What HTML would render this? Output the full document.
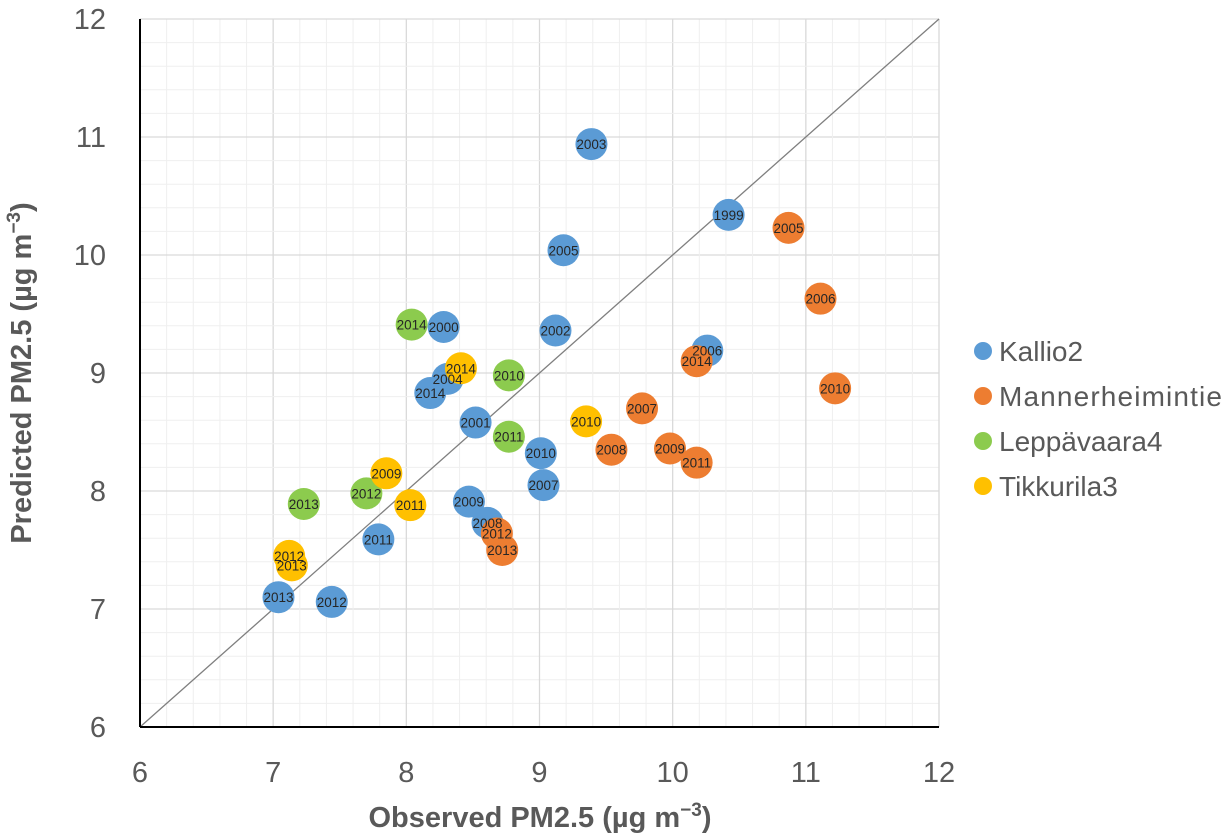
<!DOCTYPE html>
<html><head><meta charset="utf-8"><style>
body{margin:0;background:#fff;}
svg{display:block;font-family:"Liberation Sans",sans-serif;}
</style></head><body>
<svg id="chart" width="1226" height="839"></svg>
<script>
const seriesNames=["Kallio2","Mannerheimintie","Leppävaara4","Tikkurila3"];
const seriesColors=["#5B9BD5","#ED7D31","#8CCB4E","#FFC000"];
const kallioObs=[9.39,10.42,9.18,8.28,9.12,10.26,8.31,8.18,8.52,9.01,9.03,8.47,8.61,7.79,7.04,7.44];
const kallioPred=[10.94,10.34,10.04,9.39,9.36,9.19,8.95,8.83,8.58,8.32,8.05,7.91,7.73,7.59,7.10,7.06];
const kallioYears=["2003","1999","2005","2000","2002","2006","2004","2014","2001","2010","2007","2009","2008","2011","2013","2012"];
const mannObs=[10.87,11.11,11.22,10.18,9.77,9.54,9.98,10.18,8.68,8.72];
const mannPred=[10.23,9.63,8.87,9.10,8.70,8.35,8.36,8.24,7.64,7.50];
const mannYears=["2005","2006","2010","2014","2007","2008","2009","2011","2012","2013"];
const lepObs=[8.04,8.77,8.77,7.70,7.23];
const lepPred=[9.41,8.98,8.46,7.98,7.89];
const lepYears=["2014","2010","2011","2012","2013"];
const tikObs=[8.41,9.35,7.85,8.03,7.12,7.14];
const tikPred=[9.04,8.59,8.15,7.88,7.45,7.37];
const tikYears=["2014","2010","2009","2011","2012","2013"];
const xTicks=[6,7,8,9,10,11,12];
const yTicks=[6,7,8,9,10,11,12];

const NS="http://www.w3.org/2000/svg";
const svg=document.getElementById("chart");
const X0=140,X1=939,Y0=727,Y1=19;
const xs=v=>X0+(v-6)/6*(X1-X0);
const ys=v=>Y0-(v-6)/6*(Y0-Y1);
function mk(tag,attrs,parent){const e=document.createElementNS(NS,tag);for(const k in attrs)e.setAttribute(k,attrs[k]);(parent||svg).appendChild(e);return e;}

const grid=mk("g",{});


for(let i=0;i<=30;i++){
  const v=6+i*0.2;const major=i%5===0;
  mk("line",{x1:xs(v),x2:xs(v),y1:Y1,y2:Y0,stroke:major?"#d9d9d9":"#efefef","stroke-width":major?1.3:1},grid);
  mk("line",{x1:X0,x2:X1,y1:ys(v),y2:ys(v),stroke:major?"#d9d9d9":"#efefef","stroke-width":major?1.3:1},grid);
}
const diag=mk("line",{x1:xs(6),y1:ys(6),x2:xs(12),y2:ys(12),stroke:"#7f7f7f","stroke-width":1.3});


const xa=mk("line",{x1:X0,x2:X1,y1:Y0,y2:Y0,stroke:"#000","stroke-width":2});


const ya=mk("line",{x1:X0,x2:X0,y1:Y1,y2:Y0,stroke:"#000","stroke-width":2});



xTicks.forEach(t=>{const e=mk("text",{x:xs(t),y:782,"text-anchor":"middle","font-size":29,fill:"#595959"});e.textContent=t;

});
yTicks.forEach(t=>{const e=mk("text",{x:106,y:ys(t)+10,"text-anchor":"end","font-size":29,fill:"#595959"});e.textContent=t;

});

const xt=mk("text",{x:540,y:827,"text-anchor":"middle","font-size":29,"font-weight":"bold",fill:"#595959"});
xt.innerHTML='Observed PM2.5 (µg m<tspan dy="-11" font-size="19">−3</tspan><tspan dy="11">)</tspan>';


const yt=mk("text",{x:0,y:0,"text-anchor":"middle","font-size":29,"font-weight":"bold",fill:"#595959",transform:"translate(31,373) rotate(-90)"});
yt.innerHTML='Predicted PM2.5 (µg m<tspan dy="-11" font-size="19">−3</tspan><tspan dy="11">)</tspan>';



const all=[[kallioObs,kallioPred,kallioYears],[mannObs,mannPred,mannYears],[lepObs,lepPred,lepYears],[tikObs,tikPred,tikYears]];
const groups=[];
all.forEach((s,si)=>{
  const g=mk("g",{});
  
  
  groups.push(g);
  s[0].forEach((o,i)=>{
    const c=mk("circle",{cx:xs(o),cy:ys(s[1][i]),r:16,fill:seriesColors[si]},g);
    
    
  });
});
const lblG=mk("g",{});


all.forEach((s,si)=>{
  s[0].forEach((o,i)=>{
    const t=mk("text",{x:xs(o),y:ys(s[1][i])+5,"text-anchor":"middle","font-size":13.5,fill:"#262626"},lblG);
    t.textContent=s[2][i];
    
    
  });
});

const lg=mk("g",{});


seriesNames.forEach((n,i)=>{
  const y=351+i*45;
  const c=mk("circle",{cx:983,cy:y,r:9,fill:seriesColors[i]},lg);
  
  
  const t=mk("text",{x:999,y:y+10,"font-size":28,fill:"#595959",textLength:n==="Mannerheimintie"?223:null},lg);
  if(n!=="Mannerheimintie")t.removeAttribute("textLength");
  t.textContent=n;
  
  
});
</script>
</body></html>
